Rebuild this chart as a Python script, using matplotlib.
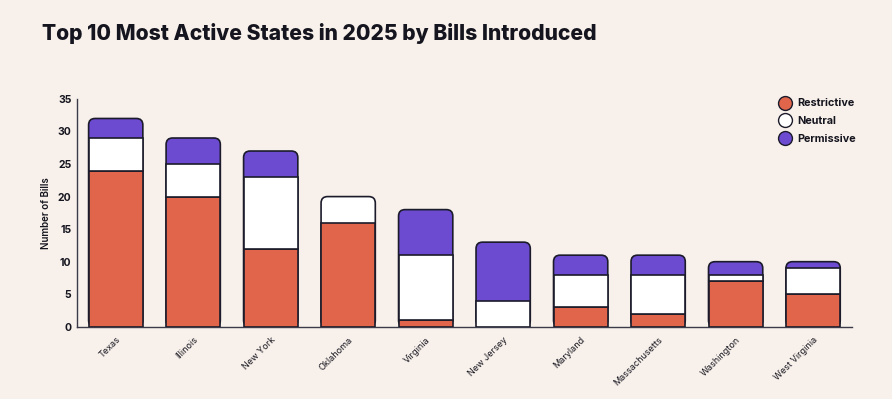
import numpy as np
import matplotlib
matplotlib.use("Agg")
import matplotlib.pyplot as plt
from matplotlib.patches import FancyBboxPatch
from matplotlib.lines import Line2D

plt.rcParams['font.family'] = ['Inter', 'DejaVu Sans']

# Data
states = ['Texas', 'Illinois', 'New York', 'Oklahoma', 'Virginia',
          'New Jersey', 'Maryland', 'Massachusetts', 'Washington', 'West Virginia']
restrictive = [24, 20, 12, 16, 1, 0, 3, 2, 7, 5]
neutral = [5, 5, 11, 4, 10, 4, 5, 6, 1, 4]
permissive = [3, 4, 4, 0, 7, 9, 3, 3, 2, 1]

series_names = ['Restrictive', 'Neutral', 'Permissive']
series_colors = ['#E0654B', '#FFFFFF', '#6C4BD1']

BG = '#F8F0EA'
EDGE = '#1B1B2B'
TEXT = '#15151F'

fig = plt.figure(figsize=(8.92, 3.99), dpi=100, facecolor=BG)
ax = fig.add_axes([0.0863, 0.181, 0.8687, 0.571])
ax.set_facecolor(BG)

x = np.arange(len(states))
width = 0.7
ax.set_xlim(-0.5, len(states) - 0.5)
ax.set_ylim(0, 35)

# aspect so the rounded corners look round in pixels
bbox = ax.get_window_extent()
px_x = bbox.width / (len(states))
px_y = bbox.height / 35
aspect = px_x / px_y
rsize = 6.5 / px_x

data = np.array([restrictive, neutral, permissive], dtype=float)
bottoms = np.vstack([np.zeros(len(states)), np.cumsum(data, axis=0)[:-1]])
totals = data.sum(axis=0)

for i in range(len(states)):
    nonzero = [k for k in range(3) if data[k, i] > 0]
    top_k = nonzero[-1]
    # top segment drawn full-height with rounded corners, lower segments cover it
    box = FancyBboxPatch((x[i] - width / 2, 0), width, totals[i],
                         boxstyle=f"round,pad=0,rounding_size={rsize}",
                         mutation_aspect=aspect,
                         facecolor=series_colors[top_k], edgecolor=EDGE,
                         linewidth=1.2, zorder=2)
    ax.add_patch(box)
    for k in nonzero[:-1]:
        ax.bar(x[i], data[k, i], width, bottom=bottoms[k, i],
               color=series_colors[k], edgecolor=EDGE, linewidth=1.2, zorder=3)

ax.set_yticks(np.arange(0, 36, 5))
ax.set_xticks(x)
ax.set_xticklabels(states, rotation=45, ha='right', rotation_mode='anchor',
                   fontsize=6.5, color=TEXT)
for lab in ax.get_yticklabels():
    lab.set_fontsize(7.5)
    lab.set_fontweight('bold')
    lab.set_color(TEXT)
ax.tick_params(axis='both', length=0)
ax.tick_params(axis='y', pad=4)
ax.tick_params(axis='x', pad=6)

ax.set_ylabel('Number of Bills', fontsize=7, fontweight='semibold', color=TEXT, labelpad=5)

for s in ['top', 'right']:
    ax.spines[s].set_visible(False)
for s in ['left', 'bottom']:
    ax.spines[s].set_color('#3a3a4a')
    ax.spines[s].set_linewidth(1.0)

handles = [Line2D([0], [0], marker='o', linestyle='', markersize=10,
                  markerfacecolor=c, markeredgecolor=EDGE, markeredgewidth=1.0)
           for c in series_colors]
leg = ax.legend(handles, series_names, loc='upper right', bbox_to_anchor=(1.018, 1.045),
                frameon=False, handletextpad=0.15, labelspacing=0.72,
                prop={'family': 'Inter', 'weight': 'bold', 'size': 7.8})
for t in leg.get_texts():
    t.set_color(TEXT)

fig.text(0.047, 0.915, 'Top 10 Most Active States in 2025 by Bills Introduced',
         fontsize=15.2, fontweight='heavy', color=TEXT, ha='left', va='center')

fig.savefig('out.png', dpi=100, facecolor=BG)
